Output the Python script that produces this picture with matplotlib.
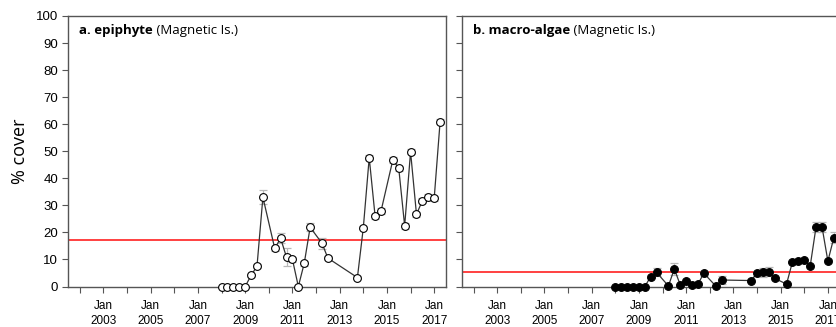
import matplotlib
matplotlib.use("Agg")
import matplotlib.pyplot as plt
import numpy as np

# Survey times (decimal years, quarterly visits)
years_a = [2008.0, 2008.25, 2008.5, 2008.75, 2009.0, 2009.25, 2009.5, 2009.75,
           2010.25, 2010.5, 2010.75, 2011.0, 2011.25, 2011.5, 2011.75,
           2012.25, 2012.5, 2013.75, 2014.0, 2014.25, 2014.5, 2014.75,
           2015.25, 2015.5, 2015.75, 2016.0, 2016.25, 2016.5, 2016.75,
           2017.0, 2017.25]
epiphyte = [0, 0, 0, 0, 0, 4.1, 7.5, 33.0,
            14.1, 17.8, 10.8, 10.0, 0, 8.6, 21.9,
            16.0, 10.5, 3.3, 21.7, 47.6, 25.9, 27.9,
            46.8, 43.7, 22.4, 49.8, 26.7, 31.7, 33.2,
            32.6, 60.9]
epiphyte_se = [0, 0, 0, 0, 0, 0.6, 0.8, 2.5,
               1.0, 1.9, 3.3, 1.0, 0, 1.0, 1.5,
               2.0, 0.8, 0.5, 0.5, 1.0, 1.0, 1.0,
               1.0, 1.0, 1.0, 1.0, 1.0, 1.0, 1.0,
               1.0, 1.0]

years_b = [2008.0, 2008.25, 2008.5, 2008.75, 2009.0, 2009.25, 2009.5, 2009.75,
           2010.25, 2010.5, 2010.75, 2011.0, 2011.25, 2011.5, 2011.75,
           2012.25, 2012.5, 2013.75, 2014.0, 2014.25, 2014.5, 2014.75,
           2015.25, 2015.5, 2015.75, 2016.0, 2016.25, 2016.5, 2016.75,
           2017.0, 2017.25]
macroalgae = [0, 0, 0, 0, 0, 0, 3.6, 5.2,
              0.2, 6.5, 0.6, 2.0, 0.4, 0.9, 4.9,
              0.2, 2.4, 2.2, 4.9, 5.2, 5.4, 3.0,
              0.9, 9.1, 9.4, 9.7, 7.5, 22.1, 22.1,
              9.4, 18.0]
macroalgae_se = [0, 0, 0, 0, 0, 0, 0.5, 1.5,
                 0.2, 2.3, 0.4, 0.6, 0.3, 0.5, 1.0,
                 0.2, 1.5, 0.6, 1.0, 1.8, 1.7, 0.6,
                 0.5, 0.5, 0.5, 0.5, 0.5, 1.9, 1.9,
                 0.6, 2.0]

# Reference levels (red lines)
ref_a = 17.1
ref_b = 5.5

panel_titles = [("a. epiphyte", " (Magnetic Is.)"),
                ("b. macro-algae", " (Magnetic Is.)")]
tick_years = list(range(2002, 2018))
label_years = list(range(2003, 2018, 2))

W, H = 837, 327
fig = plt.figure(figsize=(W / 100, H / 100), dpi=100)

ax_w = 378 / W
ax_h = 270.5 / H
ax_b = 40.5 / H
ax_a = fig.add_axes([68 / W, ax_b, ax_w, ax_h])
ax_bb = fig.add_axes([461.7 / W, ax_b, ax_w, ax_h])

tick_font = ['Liberation Sans Narrow', 'Liberation Sans', 'DejaVu Sans']
label_font = ['Open Sans', 'DejaVu Sans']

series = [
    (ax_a, years_a, epiphyte, epiphyte_se, 'white', ref_a),
    (ax_bb, years_b, macroalgae, macroalgae_se, 'black', ref_b),
]

for i, (ax, x, y, se, face, ref) in enumerate(series):
    ax.set_xlim(2001.5, 2017.5)
    ax.set_ylim(0, 100)
    ax.axhline(ref, color='#ff2020', lw=1.2, zorder=2)
    ax.errorbar(x, y, yerr=se, fmt='none', ecolor='#b8b8b8', elinewidth=0.9,
                capsize=3, capthick=0.9, zorder=3, clip_on=False)
    ax.plot(x, y, color='#333333', lw=0.9, zorder=4, clip_on=False)
    ax.plot(x, y, linestyle='none', marker='o', ms=5.6, mfc=face,
            mec='black', mew=0.8, zorder=5, clip_on=False)

    for s in ax.spines.values():
        s.set_color('#555555')
        s.set_linewidth(1.0)

    ax.set_xticks(tick_years)
    ax.set_xticklabels(["Jan\n%d" % yy if yy in label_years else "" for yy in tick_years],
                       family=tick_font, fontsize=8.5, linespacing=1.25)
    ax.set_yticks(np.arange(0, 101, 10))
    if i == 0:
        ax.set_yticklabels([str(v) for v in range(0, 101, 10)],
                           family=tick_font, fontsize=9.5)
    else:
        ax.set_yticklabels([])
    ax.tick_params(axis='both', direction='out', length=4, width=0.8,
                   color='#555555', pad=3)
    ax.tick_params(axis='x', pad=6)

    bold, rest = panel_titles[i]
    t = ax.text(0.03, 0.945, bold, transform=ax.transAxes, ha='left', va='center',
                fontsize=9.5, fontweight='bold', family=label_font, zorder=6)
    fig.canvas.draw()
    bb = t.get_window_extent()
    inv = ax.transAxes.inverted()
    x1 = inv.transform((bb.x1, bb.y0))[0]
    ax.text(x1, 0.945, rest, transform=ax.transAxes, ha='left', va='center',
            fontsize=9.5, family=label_font, zorder=6)

ax_a.set_ylabel("% cover", family=label_font, fontsize=13, labelpad=5)

fig.savefig("out.png", dpi=100)
